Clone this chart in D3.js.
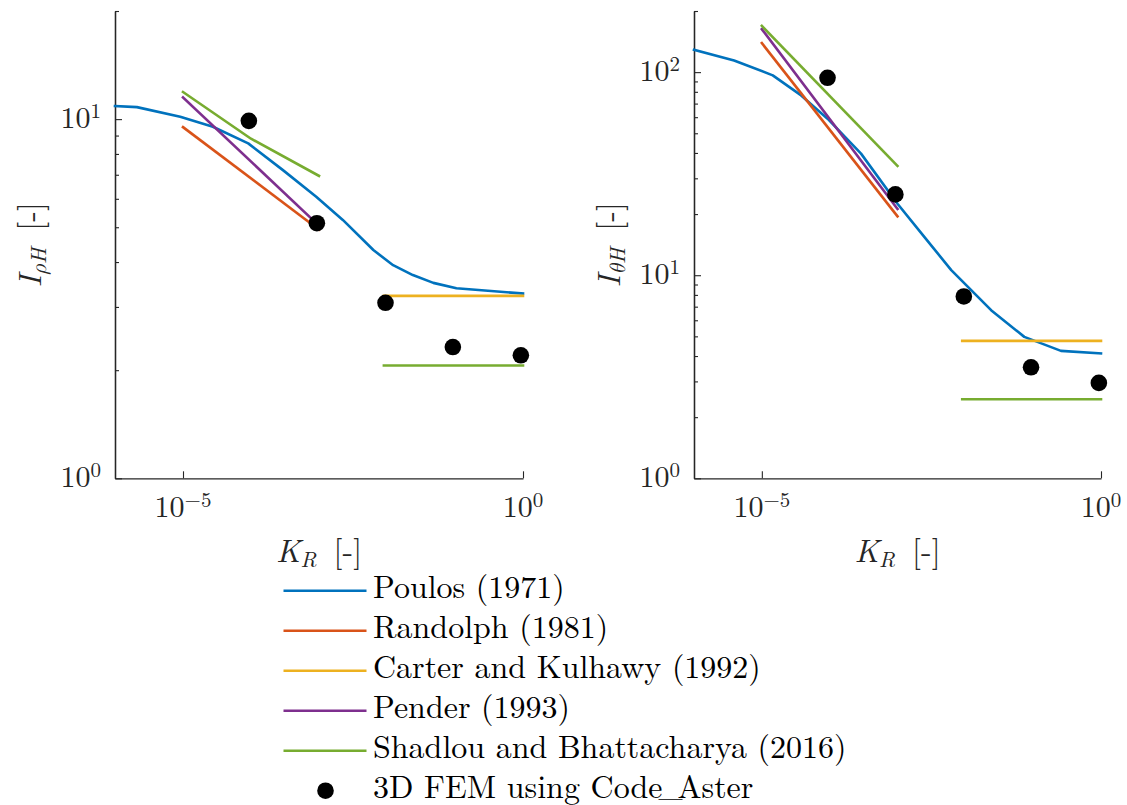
<!DOCTYPE html>
<html><head><meta charset="utf-8">
<script src="https://cdn.jsdelivr.net/npm/d3@7"></script>
<style>body{margin:0;background:#fff;}</style>
</head><body>
<svg id="chart" width="1127" height="805"></svg>
<script>
// ---------------- data ----------------
const seriesNames = ["Poulos (1971)", "Randolph (1981)", "Carter and Kulhawy (1992)", "Pender (1993)", "Shadlou and Bhattacharya (2016)", "3D FEM using Code_Aster"];
const seriesColors = ["#0072BD", "#D95319", "#EDB120", "#7E2F8E", "#77AC30", "#000000"];

const xTickValues = [1e-5, 1];
const xTickExp = ["\u22125", "0"];

// left panel: I_rhoH
const poulosRhoKR  = [1e-6, 2.1e-6, 9.1e-6, 2.75e-5, 9.1e-5, 2.95e-4, 9.1e-4, 2.24e-3, 6.3e-3, 1.23e-2, 2.4e-2, 4.8e-2, 0.105, 1];
const poulosRhoVal = [10.87, 10.8, 10.15, 9.52, 8.56, 7.21, 6.08, 5.24, 4.32, 3.92, 3.68, 3.50, 3.38, 3.27];
const randolphRhoKR = [1e-5, 1e-3];
const randolphRhoVal = [9.50, 4.92];
const carterRhoKR = [9e-3, 1];
const carterRhoVal = [3.22, 3.22];
const penderRhoKR = [1e-5, 1e-3];
const penderRhoVal = [11.5, 5.05];
const shadlouRhoKR = [1e-5, 1e-4, 1e-3];
const shadlouRhoVal = [11.9, 8.82, 6.95];
const shadlouRhoHighKR = [9e-3, 1];
const shadlouRhoHighVal = [2.06, 2.06];
const femKR = [9.3e-5, 9.3e-4, 9.5e-3, 9.3e-2, 0.93];
const femRhoVal = [9.89, 5.13, 3.08, 2.32, 2.20];
const yRhoTicks = [1, 10];
const yRhoTickExp = ["0", "1"];

// right panel: I_thetaH
const poulosThetaKR  = [1e-6, 3.9e-6, 1.45e-5, 3.8e-5, 9.3e-5, 2.9e-4, 1e-3, 2.5e-3, 6.2e-3, 2.4e-2, 7.4e-2, 0.257, 1];
const poulosThetaVal = [128.9, 114.2, 96.4, 76.8, 59.0, 39.7, 22.5, 15.4, 10.6, 6.73, 4.97, 4.24, 4.12];
const randolphThetaKR = [1e-5, 1e-3];
const randolphThetaVal = [139, 19.5];
const carterThetaKR = [9e-3, 1];
const carterThetaVal = [4.75, 4.75];
const penderThetaKR = [1e-5, 1e-3];
const penderThetaVal = [162.8, 21.2];
const shadlouThetaKR = [1e-5, 1e-3];
const shadlouThetaVal = [169, 34.5];
const shadlouThetaHighKR = [9e-3, 1];
const shadlouThetaHighVal = [2.45, 2.45];
const femThetaVal = [93.8, 25.0, 7.86, 3.52, 2.95];
const yThetaTicks = [1, 10, 100];
const yThetaTickExp = ["0", "1", "2"];

// ---------------- drawing ----------------
const svg = d3.select("#chart");
const axisColor = "#262626";
const FONT = '"Latin Modern Roman", "Latin Modern Math", "Liberation Serif", serif';
const zip = (a, b) => a.map((v, i) => [v, b[i]]);
const txt = (sel) => sel.append("text").style("font-family", FONT);

function panel(cfg) {
  const x = d3.scaleLog().domain([1e-6, 1]).range([cfg.left, cfg.right]);
  const y = d3.scaleLog().domain([1, cfg.ymax]).range([478.3, 11]);
  const g = svg.append("g");

  const minor = [];
  for (let d = 1; d < cfg.ymax; d *= 10) for (let k = 2; k <= 9; k++) if (k * d <= cfg.ymax) minor.push(k * d);
  const ya = g.append("g").attr("transform", `translate(${cfg.left},0)`)
    .call(d3.axisLeft(y).tickValues(minor).tickSizeInner(-4).tickSizeOuter(0).tickFormat(""));
  const yb = g.append("g").attr("transform", `translate(${cfg.left},0)`)
    .call(d3.axisLeft(y).tickValues(cfg.yTicks).tickSizeInner(-7).tickSizeOuter(0).tickFormat(""));
  const xa = g.append("g").attr("transform", `translate(0,478.3)`)
    .call(d3.axisBottom(x).tickValues(xTickValues).tickSizeInner(-7).tickSizeOuter(0).tickFormat(""));
  [ya, yb, xa].forEach(a => {
    a.selectAll("path").attr("stroke", axisColor).attr("stroke-width", 1.3);
    a.selectAll("line").attr("stroke", axisColor).attr("stroke-width", 1.1);
  });

  cfg.yTicks.forEach((t, i) => {
    const tx = txt(g).attr("x", cfg.left - 14).attr("y", y(t) + 8.5)
      .attr("text-anchor", "end").attr("fill", axisColor).style("font-size", "30px");
    tx.append("tspan").text("10");
    tx.append("tspan").attr("dy", -10).style("font-size", "21px").text(cfg.yTickExp[i]);
  });
  xTickValues.forEach((t, i) => {
    const tx = txt(g).attr("x", x(t)).attr("y", 517)
      .attr("text-anchor", "middle").attr("fill", axisColor).style("font-size", "30px");
    tx.append("tspan").text("10");
    tx.append("tspan").attr("dy", -10).style("font-size", "21px").text(xTickExp[i]);
  });
  const xt = txt(g).attr("x", (cfg.left + cfg.right) / 2).attr("y", 561.5)
    .attr("text-anchor", "middle").attr("fill", axisColor).style("font-size", "32px");
  xt.append("tspan").style("font-style", "italic").text("K");
  xt.append("tspan").style("font-style", "italic").style("font-size", "22px").attr("dy", 5).text("R");
  xt.append("tspan").attr("dy", -5).text("\u2009 [-]");
  const yt = txt(g).attr("transform", `translate(${cfg.left - 74},244.7) rotate(-90)`)
    .attr("text-anchor", "middle").attr("fill", axisColor).style("font-size", "32px");
  yt.append("tspan").style("font-style", "italic").text("I");
  yt.append("tspan").style("font-style", "italic").style("font-size", "22px").attr("dy", 5).text(cfg.sub);
  yt.append("tspan").attr("dy", -5).text("\u2009 [-]");

  const line = d3.line().x(d => x(d[0])).y(d => y(d[1]));
  cfg.series.forEach(s => {
    g.append("path").datum(s.data).attr("d", line).attr("fill", "none")
      .attr("stroke", s.color).attr("stroke-width", 2.6).attr("stroke-linecap", "square")
      .attr("stroke-linejoin", "round");
  });
  g.selectAll("circle.fem").data(cfg.fem).enter().append("circle")
    .attr("cx", d => x(d[0])).attr("cy", d => y(d[1])).attr("r", 8.3).attr("fill", "#000");
}

panel({
  left: 115, right: 523, ymax: 20, yTicks: yRhoTicks, yTickExp: yRhoTickExp, sub: "\u03C1H",
  series: [
    {data: zip(poulosRhoKR, poulosRhoVal), color: seriesColors[0]},
    {data: zip(randolphRhoKR, randolphRhoVal), color: seriesColors[1]},
    {data: zip(carterRhoKR, carterRhoVal), color: seriesColors[2]},
    {data: zip(penderRhoKR, penderRhoVal), color: seriesColors[3]},
    {data: zip(shadlouRhoKR, shadlouRhoVal), color: seriesColors[4]},
    {data: zip(shadlouRhoHighKR, shadlouRhoHighVal), color: seriesColors[4]}
  ],
  fem: zip(femKR, femRhoVal)
});
panel({
  left: 694, right: 1101, ymax: 200, yTicks: yThetaTicks, yTickExp: yThetaTickExp, sub: "\u03B8H",
  series: [
    {data: zip(poulosThetaKR, poulosThetaVal), color: seriesColors[0]},
    {data: zip(randolphThetaKR, randolphThetaVal), color: seriesColors[1]},
    {data: zip(carterThetaKR, carterThetaVal), color: seriesColors[2]},
    {data: zip(penderThetaKR, penderThetaVal), color: seriesColors[3]},
    {data: zip(shadlouThetaKR, shadlouThetaVal), color: seriesColors[4]},
    {data: zip(shadlouThetaHighKR, shadlouThetaHighVal), color: seriesColors[4]}
  ],
  fem: zip(femKR, femThetaVal)
});

// legend
const legend = svg.append("g");
const rowY = d3.scaleLinear().domain([0, seriesNames.length - 1]).range([590.7, 790.7]);
seriesNames.forEach((name, i) => {
  const yy = rowY(i);
  if (i < 5) {
    legend.append("line").attr("x1", 283.5).attr("x2", 366.5).attr("y1", yy).attr("y2", yy)
      .attr("stroke", seriesColors[i]).attr("stroke-width", 2.6);
  } else {
    legend.append("circle").attr("cx", 325.5).attr("cy", yy).attr("r", 8.3).attr("fill", seriesColors[i]);
  }
  const t = txt(legend).attr("x", 373).attr("y", yy + 7.5).style("font-size", "32px").attr("fill", "#000");
  if (name.includes("_")) {
    const parts = name.split("_");
    t.append("tspan").text(parts[0]);
    t.append("tspan").attr("dx", -4).attr("dy", -2).text("_");
    t.append("tspan").attr("dx", -5).attr("dy", 2).text(parts[1]);
  } else {
    t.text(name);
  }
});
</script>
</body></html>
